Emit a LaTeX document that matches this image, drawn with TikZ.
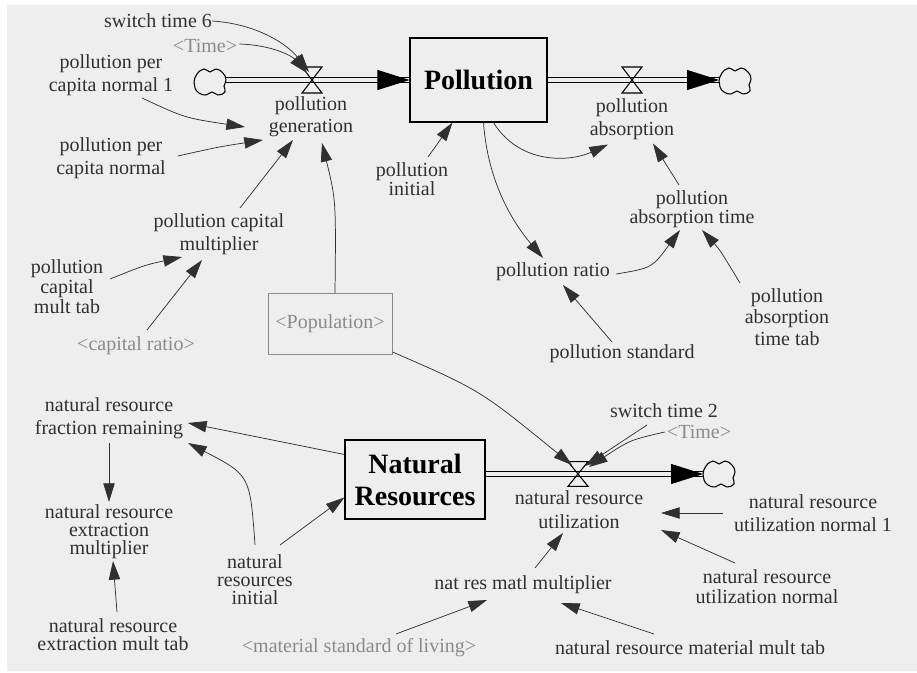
\documentclass[tikz,border=0pt]{standalone}
\usepackage{fontspec}
\setmainfont{LiberationSerif}[Extension=.ttf, UprightFont=*-Regular, BoldFont=*-Bold, ItalicFont=*-Italic, BoldItalicFont=*-BoldItalic]
\usetikzlibrary{arrows.meta,calc}
\definecolor{bggray}{HTML}{EEEEEE}
\definecolor{ghost}{HTML}{8A8A8A}
\definecolor{ink}{HTML}{303030}
\tikzset{
  lbl/.style={align=center, inner sep=0pt, text=ink, font=\fontsize{15}{17.25}\selectfont},
  lsk/.style={font=\fontsize{15}{#1}\selectfont},
  gl/.style={lbl, text=ghost},
  stock/.style={draw=black, line width=0.9pt, align=center, inner sep=0pt, text=black,
     font=\fontsize{21}{24}\selectfont\bfseries},
  popbox/.style={draw=ghost, line width=0.7pt, inner sep=0pt, text=ghost,
     minimum width=93pt, minimum height=45.75pt, font=\fontsize{15}{17.25}\selectfont},
  lk/.style={draw=ink, line width=0.55pt, -{Triangle[length=14pt,width=8.5pt]}},
  pipe/.style={draw=black, line width=0.85pt, double=bggray, double distance=3.4pt},
  pipetip/.style={draw=black, line width=0.6pt, -{Triangle[length=24pt,width=15pt]}},
  valvepic/.pic={\draw[line width=0.8pt] (-10,-13) -- (10,-13) -- (-10,13) -- (10,13) -- cycle;},
  cloudpic/.pic={\draw[line width=0.8pt] plot[smooth cycle, tension=0.8] coordinates
     {(-16,0) (-13,-8) (-6,-13) (0,-10) (6,-13) (13,-9) (16,-2) (14,4) (15,10) (8,13) (2,10) (-4,13) (-11,11) (-15,6)};}
}
\begin{document}
\begin{tikzpicture}[x=0.75pt,y=-0.75pt]
\useasboundingbox (0,0) rectangle (917,673);
\fill[bggray] (7,5) rectangle (917,671);

% ---------- coordinates of valves and clouds
\coordinate (v1) at (312,80);
\coordinate (v2) at (632,80);
\coordinate (v3) at (578,474);
\coordinate (c1) at (210,82);
\coordinate (c2) at (735,81);
\coordinate (c3) at (719,474);

% ---------- stocks
\node[stock, minimum width=102.75pt, minimum height=63pt] (pol) at (478.5,80) {Pollution};
\node[stock, minimum width=105pt, minimum height=59.25pt] (nr) at (415,479.5) {Natural\\Resources};

% ---------- pipes
\draw[pipe] ($(c1)+(16,-2)$) -- (pol.west);
\draw[pipetip] ($(pol.west)+(-25,0)$) -- (pol.west);
\draw[pipe] (pol.east) -- ($(c2)+(-16,-1)$);
\draw[pipetip] ($(c2)+(-41,-1)$) -- ($(c2)+(-16,-1)$);
\draw[pipe] ($(nr.east)+(0,-5.5)$) -- ($(c3)+(-16,0)$);
\draw[pipetip] ($(c3)+(-41,0)$) -- ($(c3)+(-16,0)$);

\pic at (v1) {valvepic};
\pic at (v2) {valvepic};
\pic[yscale=0.95] at (v3) {valvepic};
\pic at (c1) {cloudpic};
\pic at (c2) {cloudpic};
\pic at (c3) {cloudpic};

% ---------- top labels
\node[lbl] (sw6) at (158,21) {switch time 6};
\node[gl] (t1) at (205,46) {<Time>};
\node[lbl] (ppcn1) at (111,75) {pollution per\\capita normal 1};
\node[lbl] (ppcn) at (111,158) {pollution per\\capita normal};
\node[lbl, lsk=16.5pt] (pgen) at (311,117) {pollution\\generation};
\node[lbl, lsk=17.5pt] (pcm) at (219,234) {pollution capital\\multiplier};
\node[lbl, lsk=15pt] (pcmt) at (67,287) {pollution\\capital\\mult tab};
\node[gl] (cr) at (136,346) {<capital ratio>};
\node[popbox] (pop) at (330,324) {<Population>};
\node[lbl, lsk=14pt] (pinit) at (412,179) {pollution\\initial};
\node[lbl] (pabs) at (632,119.5) {pollution\\absorption};
\node[lbl, lsk=14.25pt] (pat) at (692,209) {pollution\\absorption time};
\node[lbl] (pratio) at (553,272) {pollution ratio};
\node[lbl, lsk=16pt] (patt) at (787,317) {pollution\\absorption\\time tab};
\node[lbl] (pstd) at (622,354) {pollution standard};

% ---------- bottom labels
\node[lbl] (nrfr) at (109,418) {natural resource\\fraction remaining};
\node[lbl, lsk=13.6pt] (nrem) at (109,532) {natural resource\\extraction\\multiplier};
\node[lbl, lsk=13.5pt] (nremt) at (113,635) {natural resource\\extraction mult tab};
\node[lbl, lsk=13.5pt] (nrinit) at (255,580) {natural\\resources\\initial};
\node[lbl, lsk=18pt] (nru) at (579,510) {natural resource\\utilization};
\node[lbl] (sw2) at (664,411) {switch time 2};
\node[gl] (t2) at (699,432) {<Time>};
\node[lbl] (nru1) at (813,513.5) {natural resource\\utilization normal 1};
\node[lbl, lsk=15pt] (nrun) at (767,587) {natural resource\\utilization normal};
\node[lbl] (nrmm) at (523,585) {nat res matl multiplier};
\node[gl] (msl) at (359,648) {<material standard of living>};
\node[lbl] (nrmmt) at (690,648) {natural resource material mult tab};

% ---------- links, top
\draw[lk] (sw6.east) .. controls (258,24) and (288,45) .. ($(v1)+(-3,-8)$);
\draw[lk] ($(t1.east)+(2,-2)$) .. controls (272,45) and (292,56) .. ($(v1)+(-5,-7)$);
\draw[lk] ($(ppcn1)+(31,23)$) .. controls (185,118) .. ($(pgen)+(-66,10)$);
\draw[lk] ($(ppcn)+(67,-2)$) .. controls (218,147) .. ($(pgen)+(-48,23)$);
\draw[lk] ($(pcm)+(21,-26)$) -- ($(pgen)+(-18,23)$);
\draw[lk] ($(pop.north)+(5,0)$) .. controls (336,200) .. ($(pgen)+(11,26)$);
\draw[lk] ($(pcmt)+(43,-8)$) .. controls (145,265) .. ($(pcm)+(-37,23)$);
\draw[lk] ($(cr)+(11,-16)$) -- ($(pcm)+(-17,26)$);
\draw[lk] ($(pinit)+(16,-22)$) -- ($(pol.south)+(-26,0)$);
\draw[lk] ($(pol.south)+(15,0)$) .. controls (520,165) and (570,162) .. ($(pabs)+(-24,25)$);
\draw[lk] ($(pol.south)+(5,0)$) .. controls (488,185) and (515,225) .. ($(pratio)+(-10,-14)$);
\draw[lk] ($(pratio.east)+(6,2)$) .. controls (652,268) .. ($(pat)+(-12,21)$);
\draw[lk] ($(pat)+(-13,-24)$) -- ($(pabs)+(21,24)$);
\draw[lk] ($(patt)+(-47,-34)$) .. controls (720,250) .. ($(pat)+(10,21)$);
\draw[lk] ($(pstd)+(-10,-12)$) -- ($(pratio)+(10,13)$);

% ---------- links, bottom
\draw[lk] ($(pop.south east)+(0,-3)$) .. controls (480,390) .. ($(v3)+(-6,-9)$);
\draw[lk] ($(sw2)+(-17,14)$) -- ($(v3)+(7,-8)$);
\draw[lk] ($(t2.west)+(-2,0)$) .. controls (630,440) .. ($(v3)+(11,-7)$);
\draw[lk] ($(nr.west)+(0,-25)$) -- ($(nrfr)+(79,5)$);
\draw[lk] ($(nrinit)+(0,-35)$) .. controls (250,475) .. ($(nrfr)+(79,25)$);
\draw[lk] ($(nrinit)+(25,-35)$) -- ($(nr.west)+(0,18)$);
\draw[lk] ($(nrfr)+(0,25)$) -- ($(nrem)+(0,-30)$);
\draw[lk] ($(nremt)+(4,-23)$) -- ($(nrem)+(4,29)$);
\draw[lk] ($(nrmm)+(12,-17)$) -- ($(nru)+(-16,23)$);
\draw[lk] ($(msl)+(37,-14)$) -- ($(nrmm)+(-36,15)$);
\draw[lk] ($(nrmmt)+(-36,-14)$) -- ($(nrmm)+(38,18)$);
\draw[lk] ($(nru1)+(-90,-0.5)$) -- ($(nru)+(82,3)$);
\draw[lk] ($(nrun)+(-32,-24)$) -- ($(nru)+(82,20)$);
\end{tikzpicture}
\end{document}
